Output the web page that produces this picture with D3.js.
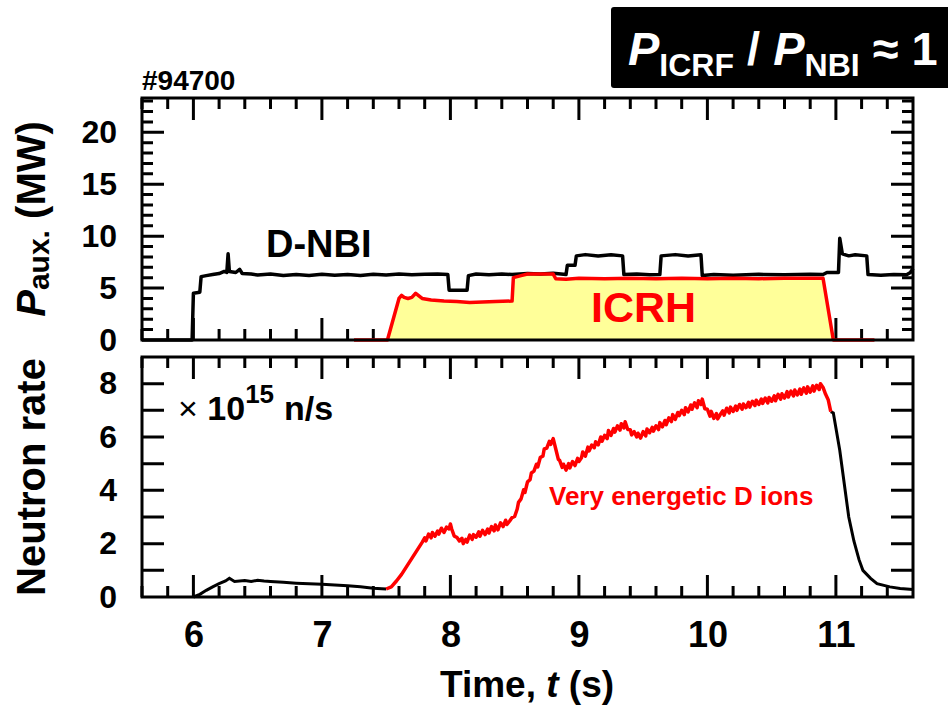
<!DOCTYPE html>
<html>
<head>
<meta charset="utf-8">
<script src="https://cdn.jsdelivr.net/npm/d3@7"></script>
<style>
  body { margin: 0; background: #fff; }
  svg text { font-family: "Liberation Sans", Arial, sans-serif; font-weight: bold; }
</style>
</head>
<body>
<svg id="chart" width="948" height="715"></svg>
<script>
// Tick labels
const timeTicks = [6, 7, 8, 9, 10, 11];
const powerTicks = [0, 5, 10, 15, 20];
const neutronTicks = [0, 2, 4, 6, 8];

// D-NBI power (MW) vs time (s)
const nbiPower = [
  [5.6,0],[5.99,0],[6.0,4.5],[6.05,4.6],[6.06,6.1],[6.1,6.2],[6.15,6.3],[6.2,6.4],[6.24,6.6],[6.26,6.5],
  [6.27,8.3],[6.28,6.6],[6.33,6.5],[6.36,6.8],[6.38,6.4],[6.45,6.35],[6.5,6.25],[6.6,6.35],[6.7,6.2],
  [6.8,6.3],[6.9,6.22],[7.0,6.32],[7.1,6.24],[7.2,6.3],[7.3,6.22],[7.4,6.32],[7.5,6.26],[7.6,6.35],
  [7.7,6.28],[7.8,6.32],[7.9,6.36],[7.98,6.3],[7.99,4.8],[8.13,4.8],[8.14,6.2],[8.2,6.35],[8.3,6.28],
  [8.4,6.35],[8.48,6.3],[8.6,6.4],[8.7,6.35],[8.8,6.42],[8.9,6.3],[8.91,7.2],[8.97,7.2],[8.98,8.1],
  [9.05,8.22],[9.15,8.08],[9.25,8.2],[9.34,8.1],[9.35,6.3],[9.45,6.36],[9.55,6.28],[9.63,6.3],
  [9.64,8.1],[9.75,8.22],[9.85,8.08],[9.95,8.2],[9.96,6.2],[10.05,6.3],[10.2,6.24],[10.4,6.32],
  [10.6,6.28],[10.8,6.32],[10.9,6.3],[10.93,6.5],[11.02,6.5],[11.03,9.8],[11.05,8.3],[11.1,8.1],
  [11.15,8.2],[11.24,8.1],[11.25,6.3],[11.35,6.24],[11.45,6.3],[11.55,6.28],[11.58,6.5],[11.6,6.9]
];

// ICRH power (MW) vs time (s)
const icrhPower = [
  [7.25,0],[7.51,0],[7.6,4.0],[7.62,4.3],[7.64,4.1],[7.67,4.0],[7.7,4.1],[7.73,4.5],[7.75,4.3],
  [7.78,4.0],[7.85,3.85],[7.95,3.75],[8.05,3.7],[8.15,3.6],[8.25,3.65],[8.35,3.7],[8.48,3.75],
  [8.49,6.0],[8.55,6.2],[8.6,6.35],[8.7,6.35],[8.8,6.35],[8.82,5.9],[8.9,5.85],[9.0,5.95],[9.2,5.9],
  [9.4,5.95],[9.6,5.9],[9.8,5.95],[10.0,5.9],[10.2,5.95],[10.4,5.9],[10.6,5.95],[10.8,5.95],
  [10.9,5.95],[10.98,0],[11.3,0]
];

// Neutron rate (x 10^15 n/s): before ICRH, during ICRH, decay
const neutronBefore = [
  [6.0,0],[6.05,0.1],[6.1,0.25],[6.15,0.38],[6.2,0.5],[6.25,0.6],[6.28,0.7],[6.32,0.58],[6.4,0.62],
  [6.45,0.58],[6.5,0.63],[6.55,0.6],[6.6,0.58],[6.7,0.55],[6.8,0.52],[6.9,0.5],[7.0,0.48],[7.1,0.45],
  [7.2,0.42],[7.3,0.38],[7.4,0.33],[7.5,0.3]
];
const neutronIcrh = [
  [7.50,0.30],[7.54,0.38],[7.58,0.60],[7.62,0.85],[7.66,1.15],[7.70,1.45],[7.74,1.75],[7.78,2.05],
  [7.80,2.22],[7.81,2.10],[7.83,2.36],[7.85,2.22],[7.86,2.42],[7.88,2.28],[7.90,2.47],[7.91,2.36],
  [7.93,2.58],[7.95,2.42],[7.97,2.62],[7.99,2.55],[8.00,2.74],[8.01,2.55],[8.03,2.28],[8.05,2.24],
  [8.07,2.10],[8.09,2.20],[8.10,2.00],[8.12,2.16],[8.13,2.06],[8.15,2.32],[8.17,2.16],[8.18,2.34],
  [8.20,2.24],[8.22,2.44],[8.23,2.28],[8.25,2.50],[8.27,2.34],[8.29,2.55],[8.30,2.40],[8.32,2.64],
  [8.34,2.48],[8.35,2.70],[8.37,2.52],[8.39,2.78],[8.41,2.64],[8.43,2.88],[8.44,2.72],[8.46,2.84],
  [8.48,2.98],[8.50,3.02],[8.52,3.30],[8.53,3.55],[8.55,3.68],[8.57,4.02],[8.58,3.92],[8.60,4.32],
  [8.62,4.40],[8.63,4.65],[8.65,4.72],[8.67,4.98],[8.68,4.88],[8.70,5.24],[8.72,5.28],[8.73,5.55],
  [8.75,5.58],[8.77,5.84],[8.78,5.72],[8.80,5.94],[8.82,5.55],[8.84,5.16],[8.85,5.12],[8.87,4.86],
  [8.88,4.98],[8.90,4.76],[8.92,5.00],[8.93,4.84],[8.95,5.08],[8.97,4.93],[8.99,5.20],[9.00,5.08],
  [9.02,5.22],[9.03,5.44],[9.05,5.28],[9.07,5.62],[9.08,5.48],[9.10,5.70],[9.12,5.60],[9.13,5.82],
  [9.15,5.70],[9.17,6.00],[9.18,5.84],[9.20,6.06],[9.22,5.94],[9.23,6.24],[9.25,6.06],[9.27,6.32],
  [9.28,6.18],[9.30,6.42],[9.32,6.26],[9.33,6.50],[9.35,6.34],[9.36,6.57],[9.38,6.28],[9.40,6.27],
  [9.41,6.08],[9.43,6.20],[9.45,6.00],[9.46,6.14],[9.48,5.96],[9.50,6.20],[9.52,6.04],[9.53,6.30],
  [9.55,6.16],[9.57,6.36],[9.58,6.22],[9.60,6.42],[9.62,6.28],[9.63,6.54],[9.65,6.38],[9.67,6.62],
  [9.68,6.46],[9.70,6.72],[9.72,6.58],[9.73,6.84],[9.75,6.66],[9.77,6.92],[9.78,6.80],[9.80,7.00],
  [9.82,6.84],[9.83,7.10],[9.85,6.94],[9.87,7.20],[9.88,7.04],[9.90,7.28],[9.92,7.10],[9.93,7.36],
  [9.95,7.22],[9.96,7.42],[9.98,7.06],[10.00,7.04],[10.02,6.78],[10.03,6.96],[10.05,6.70],[10.07,6.88],
  [10.08,6.68],[10.10,6.84],[10.12,6.98],[10.13,6.82],[10.15,7.08],[10.17,6.90],[10.18,7.12],
  [10.20,6.96],[10.22,7.16],[10.23,7.00],[10.25,7.22],[10.27,7.04],[10.28,7.24],[10.30,7.10],
  [10.32,7.30],[10.33,7.12],[10.35,7.34],[10.37,7.18],[10.38,7.38],[10.40,7.22],[10.42,7.42],
  [10.43,7.26],[10.45,7.46],[10.47,7.28],[10.48,7.48],[10.50,7.34],[10.52,7.54],[10.53,7.36],
  [10.55,7.60],[10.57,7.42],[10.58,7.62],[10.60,7.46],[10.62,7.70],[10.63,7.50],[10.65,7.72],
  [10.67,7.54],[10.68,7.76],[10.70,7.58],[10.72,7.80],[10.73,7.60],[10.75,7.84],[10.77,7.64],
  [10.78,7.88],[10.80,7.68],[10.82,7.92],[10.83,7.72],[10.85,7.94],[10.87,7.78],[10.88,8.00],
  [10.90,7.86],[10.92,7.60],[10.94,7.40],[10.96,6.95]
];
const neutronAfter = [
  [10.96,6.95],[10.98,6.9],[11.03,5.5],[11.1,3.0],[11.14,2.1],[11.18,1.4],[11.21,1.0],[11.27,0.7],
  [11.32,0.5],[11.42,0.38],[11.5,0.32],[11.6,0.28]
];

const svg = d3.select("#chart");

// Panel geometry
const plotLeft = 142, plotRight = 913;
const topPanel = { top: 98, bottom: 340 };
const botPanel = { top: 357, bottom: 597 };

const x = d3.scaleLinear().domain([5.6, 11.6]).range([plotLeft, plotRight]);
const yP = d3.scaleLinear().domain([0, 23.3]).range([topPanel.bottom, topPanel.top]);
const yN = d3.scaleLinear().domain([0, 9]).range([botPanel.bottom, botPanel.top]);

// minor ticks: time every 0.2 s, power every 1 MW, neutrons every 1
const minorTime = [5.6, 5.8, 6.2, 6.4, 6.6, 6.8, 7.2, 7.4, 7.6, 7.8, 8.2, 8.4, 8.6, 8.8,
  9.2, 9.4, 9.6, 9.8, 10.2, 10.4, 10.6, 10.8, 11.2, 11.4];
const powerMinor = [1, 2, 3, 4, 6, 7, 8, 9, 11, 12, 13, 14, 16, 17, 18, 19, 21, 22, 23];
const neutronMinor = [1, 3, 5, 7];

// ---------- Tick marks (inward), one path per panel ----------
function tickPath(panel, yScale, yMinor, yMinorLen, yMajor) {
  let d = "";
  minorTime.forEach(function(t) {
    d += "M" + x(t) + "," + panel.bottom + "V" + (panel.bottom - 11);
    d += "M" + x(t) + "," + panel.top + "V" + (panel.top + 11);
  });
  timeTicks.forEach(function(t) {
    d += "M" + x(t) + "," + panel.bottom + "V" + (panel.bottom - 22);
    d += "M" + x(t) + "," + panel.top + "V" + (panel.top + 22);
  });
  yMinor.forEach(function(v) {
    d += "M" + plotLeft + "," + yScale(v) + "H" + (plotLeft + yMinorLen);
    d += "M" + plotRight + "," + yScale(v) + "H" + (plotRight - yMinorLen);
  });
  yMajor.forEach(function(v) {
    d += "M" + plotLeft + "," + yScale(v) + "H" + (plotLeft + 22);
    d += "M" + plotRight + "," + yScale(v) + "H" + (plotRight - 22);
  });
  return d;
}
svg.append("path").attr("class", "ticks-top")
  .attr("d", tickPath(topPanel, yP, powerMinor, 11, [5, 10, 15, 20]))
  .attr("fill", "none").attr("stroke", "black").attr("stroke-width", 3);
svg.append("path").attr("class", "ticks-bottom")
  .attr("d", tickPath(botPanel, yN, neutronMinor, 22, [2, 4, 6, 8]))
  .attr("fill", "none").attr("stroke", "black").attr("stroke-width", 3);

// ---------- Top panel: auxiliary power ----------
const area = d3.area()
  .x(function(d) { return x(d[0]); })
  .y0(yP(0))
  .y1(function(d) { return yP(d[1]); });
const lineP = d3.line()
  .x(function(d) { return x(d[0]); })
  .y(function(d) { return yP(d[1]); });

svg.append("path").datum(icrhPower).attr("d", area).attr("fill", "#ffff99");
svg.append("path").datum(nbiPower).attr("d", lineP)
  .attr("fill", "none").attr("stroke", "black").attr("stroke-width", 3.5).attr("stroke-linejoin", "round");
svg.append("path").datum(icrhPower).attr("d", lineP)
  .attr("fill", "none").attr("stroke", "#ff0000").attr("stroke-width", 3.5).attr("stroke-linejoin", "round");

// ---------- Bottom panel: neutron rate ----------
const lineN = d3.line()
  .x(function(d) { return x(d[0]); })
  .y(function(d) { return yN(d[1]); });

svg.append("path").datum(neutronBefore).attr("d", lineN)
  .attr("fill", "none").attr("stroke", "black").attr("stroke-width", 3);
svg.append("path").datum(neutronAfter).attr("d", lineN)
  .attr("fill", "none").attr("stroke", "black").attr("stroke-width", 3);
svg.append("path").datum(neutronIcrh).attr("d", lineN)
  .attr("fill", "none").attr("stroke", "#ff0000").attr("stroke-width", 3.5).attr("stroke-linejoin", "round");

// ---------- Frames and tick labels ----------
function drawFrame(panel, yScale, yMajor, showXLabels) {
  if (showXLabels) {
    const xa = svg.append("g").attr("transform", "translate(0," + panel.bottom + ")")
      .call(d3.axisBottom(x).tickValues(timeTicks).tickSize(0).tickPadding(24).tickFormat(d3.format("d")));
    xa.select(".domain").remove();
    xa.selectAll("text").attr("font-size", "36px").attr("font-family", null).attr("fill", "black");
  }
  const ya = svg.append("g").attr("transform", "translate(" + plotLeft + ",0)")
    .call(d3.axisLeft(yScale).tickValues(yMajor).tickSize(0).tickPadding(25).tickFormat(d3.format("d")));
  ya.select(".domain").remove();
  ya.selectAll("text").attr("font-size", "32px").attr("font-family", null).attr("fill", "black");

  svg.append("rect")
    .attr("x", plotLeft).attr("y", panel.top)
    .attr("width", plotRight - plotLeft).attr("height", panel.bottom - panel.top)
    .attr("fill", "none").attr("stroke", "black").attr("stroke-width", 3);
}

drawFrame(topPanel, yP, powerTicks, false);
drawFrame(botPanel, yN, neutronTicks, true);

// ---------- Texts ----------
svg.append("text").attr("x", 142).attr("y", 90).attr("font-size", "28px").text("#94700");

svg.append("text").attr("x", 266).attr("y", 257).attr("font-size", "38px").text("D-NBI");
svg.append("text").attr("x", 591).attr("y", 322).attr("font-size", "43px").attr("fill", "#ff0000").text("ICRH");
svg.append("text").attr("x", 549).attr("y", 505).attr("font-size", "26px").attr("fill", "#ff0000").text("Very energetic D ions");

// x 10^15 n/s
const unit = svg.append("text").attr("x", 178).attr("y", 420).attr("font-size", "34px");
unit.append("tspan").attr("font-weight", "normal").text("\u00d7 ");
unit.append("tspan").text("10");
unit.append("tspan").attr("font-size", "26px").attr("dy", -17).text("15");
unit.append("tspan").attr("dy", 17).attr("dx", 10).text("n/s");

// Axis titles
const yTitle1 = svg.append("text")
  .attr("transform", "translate(45," + ((topPanel.top + topPanel.bottom) / 2) + ") rotate(-90)")
  .attr("text-anchor", "middle").attr("font-size", "40px");
yTitle1.append("tspan").attr("font-style", "italic").text("P");
yTitle1.append("tspan").attr("font-size", "30px").attr("dy", 4).text("aux.");
yTitle1.append("tspan").attr("dy", -4).text(" (MW)");

svg.append("text")
  .attr("transform", "translate(45," + ((botPanel.top + botPanel.bottom) / 2) + ") rotate(-90)")
  .attr("text-anchor", "middle").attr("font-size", "40px").text("Neutron rate");

const xTitle = svg.append("text").attr("x", 527).attr("y", 697)
  .attr("text-anchor", "middle").attr("font-size", "37px");
xTitle.append("tspan").text("Time, ");
xTitle.append("tspan").attr("font-style", "italic").text("t");
xTitle.append("tspan").text(" (s)");

// Ratio box in the top right corner
svg.append("rect").attr("x", 611).attr("y", 7).attr("width", 345).attr("height", 81)
  .attr("rx", 3).attr("fill", "black");
const ratio = svg.append("text").attr("x", 628).attr("y", 65).attr("fill", "white").attr("font-size", "47px");
ratio.append("tspan").attr("font-style", "italic").text("P");
ratio.append("tspan").attr("font-size", "32px").attr("dy", 11).text("ICRF");
ratio.append("tspan").attr("dy", -11).text(" / ");
ratio.append("tspan").attr("font-style", "italic").text("P");
ratio.append("tspan").attr("font-size", "32px").attr("dy", 11).text("NBI");
ratio.append("tspan").attr("dy", -11).text(" \u2248 1");
</script>
</body>
</html>
